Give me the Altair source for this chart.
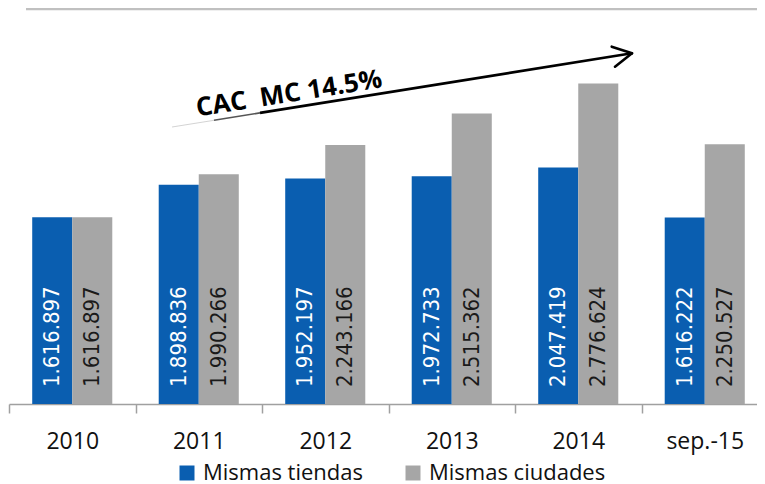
import altair as alt
import pandas as pd

categories = ["2010", "2011", "2012", "2013", "2014", "sep.-15"]
mismas_tiendas = [1616897, 1898836, 1952197, 1972733, 2047419, 1616222]
mismas_ciudades = [1616897, 1990266, 2243166, 2515362, 2776624, 2250527]
series = ["Mismas tiendas", "Mismas ciudades"]
colors = ["#0a5eb0", "#a6a6a6"]
annotation = "CAC\u00a0 MC 14.5%"

rows = []
for c, a, b in zip(categories, mismas_tiendas, mismas_ciudades):
    rows.append({"cat": c, "serie": series[0], "valor": a, "label": f"{a:,}".replace(",", ".")})
    rows.append({"cat": c, "serie": series[1], "valor": b, "label": f"{b:,}".replace(",", ".")})
df = pd.DataFrame(rows)

W, H = 748, 396
FULL = 759

x_enc = alt.X(
    "cat:N", sort=categories, title=None,
    scale=alt.Scale(paddingInner=0, paddingOuter=0, range=[0, FULL]),
    axis=alt.Axis(
        labelAngle=0, labelFont="Open Sans", labelFontSize=23, labelColor="#111111",
        labelPadding=28, labelBaseline="middle", tickSize=9, tickBand="extent",
        domainColor="#a0a0a0", tickColor="#a0a0a0", domainWidth=1.5, tickWidth=1.5,
        grid=False,
    ),
)
xoff = alt.XOffset("serie:N", sort=series, scale=alt.Scale(paddingInner=0, paddingOuter=0.58))
y_scale = alt.Scale(domain=[0, 3430000], nice=False, zero=True)

base = alt.Chart(df)

bars = base.mark_bar().encode(
    x=x_enc,
    xOffset=xoff,
    y=alt.Y("valor:Q", scale=y_scale, axis=None),
    color=alt.Color(
        "serie:N", sort=series,
        scale=alt.Scale(domain=series, range=colors),
        legend=alt.Legend(
            orient="none", legendX=167, legendY=454, direction="horizontal", title=None,
            symbolType="square", symbolSize=225, symbolStrokeWidth=0, symbolOpacity=1,
            labelFont="Open Sans", labelFontSize=22, labelColor="#111111", labelLimit=400,
            labelOffset=5, columnPadding=38, padding=0,
        ),
    ),
)

labels = base.mark_text(
    angle=270, align="left", baseline="middle", dx=17,
    font="DejaVu Sans Condensed", fontSize=22,
).encode(
    x=alt.X("cat:N", sort=categories),
    xOffset=alt.XOffset("serie:N", sort=series),
    y=alt.datum(0, type="quantitative"),
    text="label:N",
    color=alt.condition(f"datum.serie == '{series[0]}'", alt.value("white"), alt.value("#1a1a1a")),
)

one = pd.DataFrame({"k": [0]})
grid = alt.Chart(one).mark_rule(color="#c0c0c0", strokeWidth=2.5).encode(
    x=alt.value(17), x2=alt.value(FULL), y=alt.value(1)
)

arrow_thin1 = alt.Chart(one).mark_rule(color="#c8c8c8", strokeWidth=0.8).encode(
    x=alt.value(163), y=alt.value(119), x2=alt.value(205), y2=alt.value(112.3)
)
arrow_thin2 = alt.Chart(one).mark_rule(color="#555555", strokeWidth=1.6).encode(
    x=alt.value(205), y=alt.value(112.3), x2=alt.value(251), y2=alt.value(104.9)
)
arrow_main = alt.Chart(one).mark_rule(color="black", strokeWidth=2.6).encode(
    x=alt.value(251), y=alt.value(104.9), x2=alt.value(623), y2=alt.value(45.3)
)
head1 = alt.Chart(one).mark_rule(color="black", strokeWidth=2.6, strokeCap="round").encode(
    x=alt.value(602.7), y=alt.value(38.7), x2=alt.value(623), y2=alt.value(45.3)
)
head2 = alt.Chart(one).mark_rule(color="black", strokeWidth=2.6, strokeCap="round").encode(
    x=alt.value(606), y=alt.value(58.7), x2=alt.value(623), y2=alt.value(45.3)
)
cac_text = alt.Chart(one).mark_text(
    text=annotation, angle=351, align="center", baseline="middle",
    font="Open Sans", fontWeight="bold", fontSize=26, color="black",
).encode(x=alt.value(280), y=alt.value(86))

chart = alt.layer(
    grid, bars, labels, arrow_thin1, arrow_thin2, arrow_main, head1, head2, cac_text
).properties(
    width=W, height=H,
    autosize=alt.AutoSizeParams(type="none"),
    padding={"left": 1, "top": 0, "right": 0, "bottom": 82},
).configure_view(stroke=None)

chart.save("out.html", embed_options={"renderer": "svg", "actions": False})
